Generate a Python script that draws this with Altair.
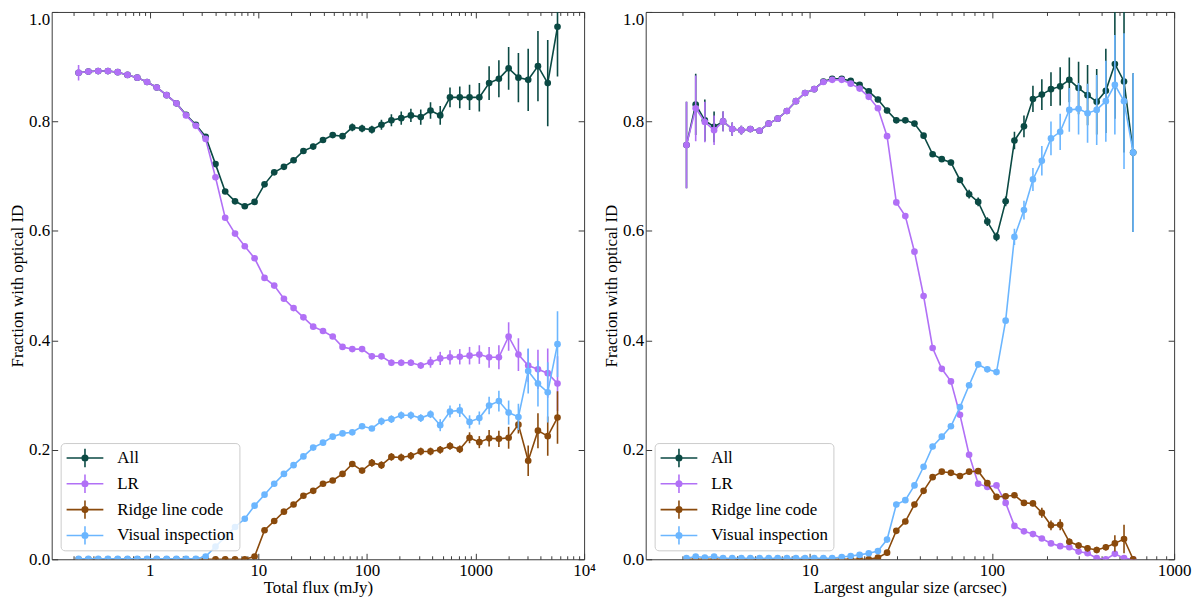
import altair as alt
import pandas as pd

SERIES = ["All", "LR", "Ridge line code", "Visual inspection"]
COLORS = ["#0b4a44", "#b170f6", "#8a4a0c", "#6bb6ff"]

# ---- left panel: total flux (mJy), bin centres ----
flux = [0.221, 0.272, 0.335, 0.412, 0.507, 0.624, 0.767, 0.944, 1.16, 1.43,
        1.76, 2.16, 2.66, 3.27, 4.03, 4.95, 6.10, 7.50, 9.23, 11.4,
        14.0, 17.2, 21.1, 26.0, 32.0, 39.4, 48.4, 59.6, 73.3, 90.2,
        111, 136, 168, 207, 254, 313, 385, 473, 582, 716,
        881, 1084, 1334, 1641, 2018, 2483, 3055, 3758, 4624, 5689]

all_flux = [0.889, 0.891, 0.892, 0.892, 0.890, 0.885, 0.880, 0.872, 0.862, 0.848,
            0.833, 0.812, 0.794, 0.772, 0.722, 0.672, 0.654, 0.645, 0.653, 0.685,
            0.707, 0.717, 0.729, 0.746, 0.754, 0.766, 0.775, 0.773, 0.789, 0.787,
            0.785, 0.794, 0.802, 0.806, 0.811, 0.808, 0.820, 0.811, 0.844, 0.844,
            0.844, 0.844, 0.870, 0.878, 0.897, 0.880, 0.876, 0.901, 0.870, 0.973]
all_flux_err = [0.003, 0.003, 0.003, 0.003, 0.003, 0.003, 0.003, 0.003, 0.003, 0.003,
                0.003, 0.004, 0.004, 0.004, 0.004, 0.004, 0.004, 0.004, 0.004, 0.004,
                0.004, 0.004, 0.004, 0.005, 0.005, 0.005, 0.005, 0.005, 0.007, 0.007,
                0.007, 0.009, 0.011, 0.012, 0.012, 0.014, 0.015, 0.017, 0.018, 0.020,
                0.023, 0.026, 0.031, 0.034, 0.039, 0.045, 0.057, 0.064, 0.079, 0.091]

lr_flux = [0.889, 0.891, 0.892, 0.892, 0.890, 0.885, 0.880, 0.872, 0.862, 0.848,
           0.833, 0.811, 0.792, 0.768, 0.698, 0.624, 0.595, 0.572, 0.550, 0.514,
           0.500, 0.476, 0.459, 0.442, 0.425, 0.417, 0.407, 0.388, 0.384, 0.384,
           0.371, 0.371, 0.359, 0.359, 0.359, 0.354, 0.360, 0.367, 0.369, 0.370,
           0.372, 0.374, 0.369, 0.369, 0.407, 0.374, 0.354, 0.347, 0.340, 0.321]
lr_flux_err = [0.014, 0.003, 0.003, 0.003, 0.003, 0.003, 0.003, 0.003, 0.003, 0.003,
               0.003, 0.003, 0.003, 0.003, 0.003, 0.003, 0.003, 0.003, 0.003, 0.003,
               0.003, 0.003, 0.003, 0.003, 0.003, 0.003, 0.003, 0.003, 0.003, 0.003,
               0.006, 0.006, 0.006, 0.006, 0.006, 0.006, 0.010, 0.012, 0.013, 0.014,
               0.016, 0.017, 0.019, 0.022, 0.026, 0.030, 0.030, 0.036, 0.045, 0.050]

rl_flux = [0.0, 0.0, 0.0, 0.0, 0.0, 0.0, 0.0, 0.0, 0.0, 0.0,
           0.0, 0.0, 0.0, 0.0, 0.0, 0.0, 0.0, 0.0, 0.005, 0.053,
           0.070, 0.087, 0.100, 0.116, 0.125, 0.138, 0.144, 0.156, 0.174, 0.162,
           0.176, 0.172, 0.187, 0.186, 0.189, 0.197, 0.197, 0.200, 0.207, 0.201,
           0.222, 0.214, 0.221, 0.220, 0.222, 0.246, 0.180, 0.235, 0.225, 0.259]
rl_flux_err = [0.002, 0.002, 0.002, 0.002, 0.002, 0.002, 0.002, 0.002, 0.002, 0.002,
               0.002, 0.002, 0.002, 0.002, 0.002, 0.002, 0.002, 0.002, 0.002, 0.004,
               0.004, 0.004, 0.004, 0.004, 0.004, 0.004, 0.004, 0.004, 0.004, 0.004,
               0.007, 0.007, 0.007, 0.007, 0.007, 0.007, 0.007, 0.007, 0.007, 0.007,
               0.010, 0.011, 0.015, 0.015, 0.020, 0.016, 0.028, 0.032, 0.036, 0.048]

vi_flux = [0.001, 0.001, 0.001, 0.001, 0.001, 0.001, 0.001, 0.001, 0.001, 0.001,
           0.001, 0.001, 0.001, 0.005, 0.023, 0.041, 0.059, 0.074, 0.098, 0.118,
           0.138, 0.156, 0.172, 0.188, 0.204, 0.213, 0.224, 0.230, 0.232, 0.243,
           0.239, 0.252, 0.256, 0.263, 0.263, 0.258, 0.265, 0.245, 0.270, 0.272,
           0.251, 0.258, 0.281, 0.289, 0.268, 0.260, 0.344, 0.321, 0.305, 0.393]
vi_flux_err = [0.002, 0.002, 0.002, 0.002, 0.002, 0.002, 0.002, 0.002, 0.002, 0.002,
               0.002, 0.002, 0.002, 0.002, 0.002, 0.002, 0.002, 0.002, 0.002, 0.002,
               0.002, 0.002, 0.004, 0.004, 0.004, 0.004, 0.004, 0.004, 0.004, 0.004,
               0.004, 0.007, 0.007, 0.007, 0.007, 0.007, 0.007, 0.011, 0.011, 0.012,
               0.012, 0.012, 0.016, 0.019, 0.022, 0.024, 0.041, 0.042, 0.055, 0.060]

# ---- right panel: largest angular size (arcsec), bin centres ----
las = [2.11, 2.37, 2.66, 2.99, 3.35, 3.76, 4.22, 4.73, 5.31, 5.96,
       6.68, 7.50, 8.41, 9.44, 10.6, 11.9, 13.3, 15.0, 16.8, 18.8,
       21.1, 23.7, 26.6, 29.9, 33.5, 37.6, 42.2, 47.3, 53.1, 59.6,
       66.8, 75.0, 84.1, 94.4, 106, 119, 133, 150, 168, 188,
       211, 237, 266, 299, 335, 376, 422, 473, 531, 596]

all_las = [0.757, 0.831, 0.802, 0.790, 0.800, 0.786, 0.784, 0.786, 0.783, 0.796,
           0.805, 0.819, 0.837, 0.852, 0.859, 0.873, 0.878, 0.878, 0.874, 0.867,
           0.855, 0.840, 0.820, 0.802, 0.802, 0.796, 0.774, 0.740, 0.731, 0.725,
           0.693, 0.667, 0.653, 0.617, 0.589, 0.654, 0.765, 0.791, 0.841, 0.849,
           0.859, 0.864, 0.876, 0.861, 0.848, 0.836, 0.856, 0.905, 0.873, 0.743]
all_las_err = [0.079, 0.056, 0.038, 0.028, 0.018, 0.012, 0.008, 0.004, 0.004, 0.004,
               0.004, 0.004, 0.004, 0.004, 0.004, 0.004, 0.004, 0.004, 0.004, 0.004,
               0.004, 0.005, 0.005, 0.005, 0.005, 0.005, 0.005, 0.005, 0.005, 0.005,
               0.005, 0.008, 0.008, 0.008, 0.008, 0.009, 0.016, 0.020, 0.024, 0.028,
               0.031, 0.035, 0.041, 0.048, 0.055, 0.060, 0.077, 0.100, 0.130, 0.145]

lr_las = [0.757, 0.824, 0.799, 0.784, 0.800, 0.786, 0.784, 0.786, 0.783, 0.796,
          0.805, 0.819, 0.837, 0.852, 0.859, 0.872, 0.876, 0.876, 0.869, 0.860,
          0.845, 0.824, 0.773, 0.652, 0.627, 0.562, 0.481, 0.386, 0.348, 0.325,
          0.264, 0.191, 0.138, 0.132, 0.135, 0.103, 0.061, 0.051, 0.046, 0.038,
          0.029, 0.024, 0.022, 0.014, 0.011, 0.002, 0.0, 0.010, 0.002, 0.0]
lr_las_err = [0.079, 0.060, 0.037, 0.027, 0.018, 0.012, 0.008, 0.004, 0.004, 0.004,
              0.004, 0.004, 0.004, 0.004, 0.004, 0.004, 0.004, 0.004, 0.004, 0.004,
              0.004, 0.004, 0.005, 0.005, 0.005, 0.005, 0.005, 0.005, 0.005, 0.005,
              0.005, 0.004, 0.004, 0.004, 0.004, 0.004, 0.004, 0.004, 0.004, 0.004,
              0.004, 0.004, 0.004, 0.004, 0.004, 0.004, 0.004, 0.004, 0.004, 0.004]

rl_las = [0.0, 0.0, 0.0, 0.0, 0.0, 0.0, 0.0, 0.0, 0.0, 0.0,
          0.0, 0.0, 0.0, 0.0, 0.0, 0.0, 0.0, 0.0, 0.0, 0.0,
          0.0, 0.003, 0.012, 0.052, 0.069, 0.100, 0.125, 0.150, 0.160, 0.158,
          0.152, 0.160, 0.161, 0.139, 0.114, 0.115, 0.117, 0.103, 0.102, 0.085,
          0.062, 0.063, 0.032, 0.025, 0.020, 0.017, 0.022, 0.029, 0.037, 0.0]
rl_las_err = [0.002, 0.002, 0.002, 0.002, 0.002, 0.002, 0.002, 0.002, 0.002, 0.002,
              0.002, 0.002, 0.002, 0.002, 0.002, 0.002, 0.002, 0.002, 0.002, 0.002,
              0.002, 0.002, 0.005, 0.005, 0.005, 0.005, 0.005, 0.005, 0.005, 0.005,
              0.005, 0.005, 0.005, 0.005, 0.005, 0.005, 0.005, 0.005, 0.005, 0.009,
              0.009, 0.010, 0.006, 0.006, 0.006, 0.006, 0.006, 0.015, 0.026, 0.005]

vi_las = [0.002, 0.005, 0.003, 0.005, 0.002, 0.002, 0.002, 0.002, 0.002, 0.002,
          0.002, 0.002, 0.002, 0.002, 0.002, 0.002, 0.002, 0.004, 0.006, 0.008,
          0.011, 0.015, 0.036, 0.100, 0.108, 0.135, 0.169, 0.206, 0.224, 0.243,
          0.278, 0.318, 0.356, 0.347, 0.342, 0.436, 0.589, 0.638, 0.694, 0.728,
          0.769, 0.781, 0.821, 0.823, 0.815, 0.821, 0.837, 0.867, 0.837, 0.743]
vi_las_err = [0.002, 0.002, 0.002, 0.002, 0.002, 0.002, 0.002, 0.002, 0.002, 0.002,
              0.002, 0.002, 0.002, 0.002, 0.002, 0.002, 0.002, 0.002, 0.002, 0.002,
              0.002, 0.002, 0.005, 0.005, 0.005, 0.005, 0.005, 0.005, 0.005, 0.005,
              0.005, 0.005, 0.005, 0.005, 0.005, 0.005, 0.015, 0.017, 0.021, 0.027,
              0.031, 0.033, 0.040, 0.047, 0.054, 0.064, 0.074, 0.091, 0.124, 0.145]

# tick values
y_ticks = [0.0, 0.2, 0.4, 0.6, 0.8, 1.0]
flux_major = [1, 10, 100, 1000, 10000]
flux_minor = [m * 10.0 ** e for e in range(-1, 4) for m in range(2, 10)]
las_major = [10, 100, 1000]
las_minor = [m * 10.0 ** e for e in range(0, 3) for m in range(2, 10)]

FONT = "Liberation Serif"
FRAME = "#3a3a3a"
H = 551

# errorbar legend handle: horizontal line, vertical bar and a dot
HANDLE = ("M-1,0H1M0,-0.5V0.5"
          "M0.15,0A0.15,0.15,0,1,1,-0.15,0A0.15,0.15,0,1,1,0.15,0"
          "M0.08,0A0.08,0.08,0,1,1,-0.08,0A0.08,0.08,0,1,1,0.08,0"
          "M0.03,0A0.03,0.03,0,1,1,-0.03,0A0.03,0.03,0,1,1,0.03,0")


def frame(xs, cols):
    rows = []
    for name, (vals, errs) in zip(SERIES, cols):
        for x, v, e in zip(xs, vals, errs):
            rows.append({"x": x, "frac": v, "lo": v - e, "hi": v + e, "series": name})
    return pd.DataFrame(rows)


def panel(df, domain, xtitle, major, minor, label_expr, width):
    x_scale = alt.Scale(type="log", domain=domain, nice=False)
    y_scale = alt.Scale(domain=[0, 1], nice=False)
    c_scale = alt.Scale(domain=SERIES, range=COLORS)

    def inward(orient, values, size, dist):
        # an axis pushed across the plot so its ticks point inwards
        return alt.Axis(orient=orient, offset=-dist, values=values, tickSize=size,
                        tickColor=FRAME, tickWidth=1, labels=False, domain=False,
                        grid=False, title=None)

    main_x = alt.Axis(values=major, labelExpr=label_expr, ticks=False, tickSize=0,
                      domain=False, grid=False, labelPadding=3, titlePadding=1,
                      labelFlush=False, title=xtitle)
    main_y = alt.Axis(values=y_ticks, format=".1f", ticks=False, tickSize=0,
                      domain=False, grid=False, labelPadding=2, titlePadding=2,
                      labelFlush=False, title="Fraction with optical ID",
                      labelBaseline={"condition": {"test": "datum.value == 1", "value": "top"},
                                     "value": "middle"})
    x_axes = [main_x, inward("top", major, 6, H), inward("top", minor, 3.5, H),
              inward("bottom", major, 6, H), inward("bottom", minor, 3.5, H)]
    y_axes = [main_y, inward("right", y_ticks, 6, width), inward("left", y_ticks, 6, width)]

    legend = alt.Legend(title=None, orient="bottom-left", offset=9, padding=5,
                        fillColor="rgba(255,255,255,0.8)", strokeColor="#cccccc",
                        cornerRadius=4, symbolType=HANDLE, symbolSize=1369,
                        symbolStrokeWidth=1.6, symbolOpacity=1, labelFont=FONT,
                        labelFontSize=17, labelColor="black", labelOffset=13,
                        clipHeight=20, rowPadding=6)

    layers = []
    k = 0
    for name in SERIES:
        src = alt.Chart(df).transform_filter(alt.datum.series == name)
        for kind in ("bar", "line", "dot"):
            xa = x_axes[k] if k < len(x_axes) else None
            ya = y_axes[k] if k < len(y_axes) else None
            x = alt.X("x:Q", scale=x_scale, axis=xa)
            color = alt.Color("series:N", scale=c_scale,
                              legend=legend if k == 0 else None)
            if kind == "bar":
                layer = src.mark_rule(strokeWidth=1.6, clip=True).encode(
                    x=x, y=alt.Y("lo:Q", scale=y_scale, axis=ya), y2="hi:Q", color=color)
            elif kind == "line":
                layer = src.mark_line(strokeWidth=1.6, clip=True).encode(
                    x=x, y=alt.Y("frac:Q", scale=y_scale, axis=ya), color=color)
            else:
                layer = src.mark_circle(size=45, opacity=1, clip=True).encode(
                    x=x, y=alt.Y("frac:Q", scale=y_scale, axis=ya), color=color)
            layers.append(layer)
            k += 1

    return alt.layer(*layers).resolve_axis(x="independent", y="independent").properties(
        width=width, height=H)


df_flux = frame(flux, [(all_flux, all_flux_err), (lr_flux, lr_flux_err),
                       (rl_flux, rl_flux_err), (vi_flux, vi_flux_err)])
df_las = frame(las, [(all_las, all_las_err), (lr_las, lr_las_err),
                     (rl_las, rl_las_err), (vi_las, vi_las_err)])

left = panel(df_flux, [0.125, 10000], "Total flux (mJy)", flux_major, flux_minor,
             "datum.value >= 10000 ? '10\u2074' : format(datum.value, 'd')", 536)
right = panel(df_las, [1.26, 1000], "Largest angular size (arcsec)", las_major, las_minor,
              "format(datum.value, 'd')", 532)

chart = alt.hconcat(left, right, spacing=62, bounds="flush").resolve_legend(
    color="independent"
).properties(
    padding=0
).configure_view(
    stroke=FRAME, strokeWidth=1
).configure_axis(
    labelFont=FONT, labelFontSize=17, labelColor="black",
    titleFont=FONT, titleFontSize=17, titleFontWeight="normal", titleColor="black"
)

chart.save("out.html", embed_options={"renderer": "svg", "actions": False})
